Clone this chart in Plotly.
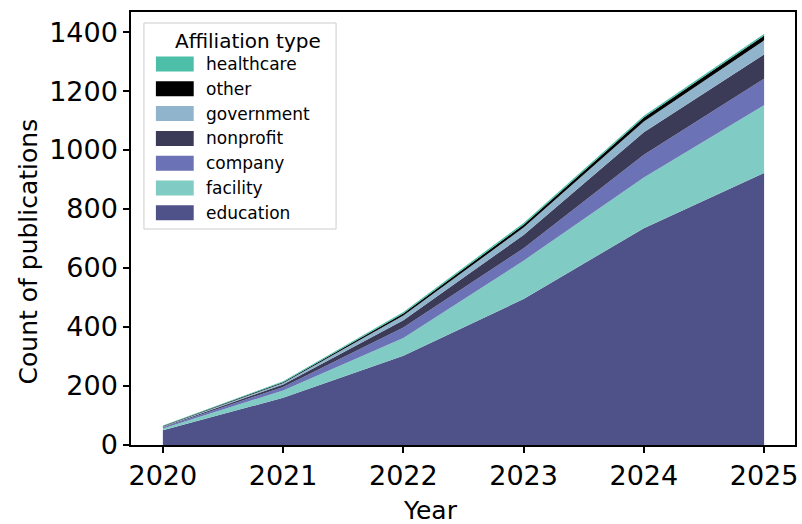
import plotly.graph_objects as go

# ---------------------------------------------------------------------------
# Data
# ---------------------------------------------------------------------------
years = [2020, 2021, 2022, 2023, 2024, 2025]

education = [50, 160, 303, 495, 735, 922]
facility = [6, 25, 60, 130, 172, 230]
company = [3, 12, 35, 42, 77, 90]
nonprofit = [2, 8, 25, 45, 76, 82]
government = [2, 5, 16, 25, 37, 48]
other = [1, 3, 7, 10, 13, 16]
healthcare = [2, 3, 5, 6, 6, 6]

# bottom -> top stacking order
series = [
    ("education", education, "#4f5288"),
    ("facility", facility, "#80cbc4"),
    ("company", company, "#6b72b5"),
    ("nonprofit", nonprofit, "#3b3a57"),
    ("government", government, "#8fb4cc"),
    ("other", other, "#000000"),
    ("healthcare", healthcare, "#4dbfa9"),
]

FONT = "DejaVu Sans"

# plot area in pixels (802x524 canvas)
L, R, T, B = 131, 798, 12, 445


def px(x):
    return (x - L) / (R - L)


def py(y):
    return (B - y) / (B - T)


fig = go.Figure()
for name, vals, color in series:
    fig.add_trace(go.Scatter(
        x=years, y=vals, name=name, mode="lines", stackgroup="one",
        line=dict(width=0, color=color), fillcolor=color, showlegend=False,
    ))

# hand-built legend so swatches match the reference
shapes = [dict(type="rect", xref="paper", yref="paper",
               x0=px(144), x1=px(337), y0=py(229), y1=py(23),
               line=dict(color="#cccccc", width=1), fillcolor="rgba(255,255,255,0.85)",
               layer="above")]
annotations = [dict(text="Affiliation type", xref="paper", yref="paper",
                    x=px(249), y=py(41), xanchor="center", yanchor="middle",
                    showarrow=False, font=dict(family=FONT, size=20, color="black"))]
row_y = 64
for name, vals, color in reversed(series):
    shapes.append(dict(type="rect", xref="paper", yref="paper",
                       x0=px(156), x1=px(194), y0=py(row_y + 7.5), y1=py(row_y - 7.5),
                       line=dict(width=0), fillcolor=color, layer="above"))
    annotations.append(dict(text=name, xref="paper", yref="paper",
                            x=px(204), y=py(row_y), xanchor="left", yanchor="middle",
                            showarrow=False, font=dict(family=FONT, size=17, color="black")))
    row_y += 24.8

# axis titles placed where the reference has them
annotations.append(dict(text="Year", xref="paper", yref="paper", x=px(432), y=py(510),
                        xanchor="center", yanchor="middle", showarrow=False,
                        font=dict(family=FONT, size=25, color="black")))
annotations.append(dict(text="Count of publications", xref="paper", yref="paper",
                        x=px(28), y=py(251), xanchor="center", yanchor="middle",
                        textangle=-90, showarrow=False,
                        font=dict(family=FONT, size=25, color="black")))

fig.update_layout(
    width=802, height=524,
    margin=dict(l=L, r=802 - R, t=T, b=524 - B),
    paper_bgcolor="white", plot_bgcolor="white",
    font=dict(family=FONT, size=27, color="black"),
    shapes=shapes, annotations=annotations,
    showlegend=False,
)
axis_style = dict(
    showgrid=False, zeroline=False, showline=True, mirror=True,
    linecolor="black", linewidth=1.5, ticks="outside", ticklen=6, tickwidth=1.5,
    tickcolor="black", tickfont=dict(family=FONT, size=27, color="black"),
)
fig.update_xaxes(range=[2019.735, 2025.257], tickvals=years,
                 ticktext=[str(y) for y in years], **axis_style)
fig.update_yaxes(range=[0, 1468], tickvals=[0, 200, 400, 600, 800, 1000, 1200, 1400],
                 **axis_style)

# page body has a default margin; drop it so the figure sits at the window origin
fig.write_html("out.html", config={"displayModeBar": False},
               post_script="document.body.style.margin='0';")
